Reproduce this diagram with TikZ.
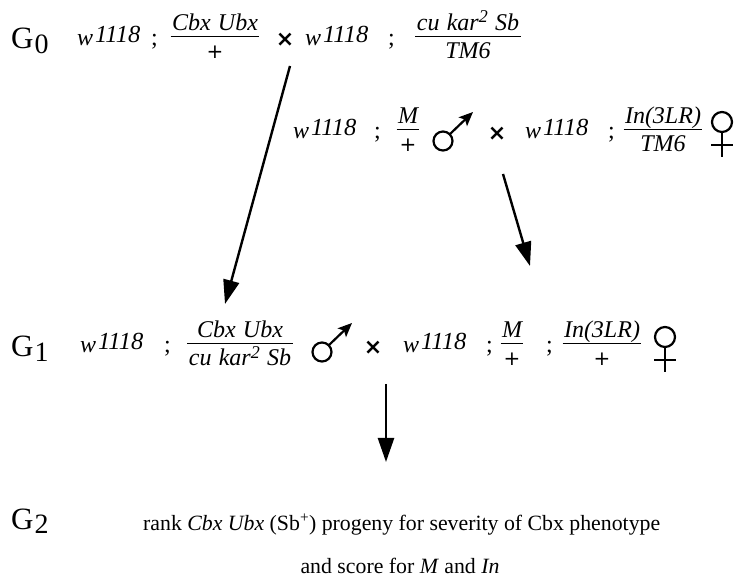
\documentclass[tikz,border=0pt]{standalone}
\usepackage{fontspec}
\setmainfont{Liberation Serif}
\newfontfamily\genfont[WordSpace=1.2]{Liberation Serif}
\newfontfamily\symfont{DejaVu Sans}
\usetikzlibrary{arrows.meta}
\newdimen\fax \fax=8pt
\newdimen\fnum \fnum=5.5pt
\newdimen\fden \fden=22pt
\newdimen\fbar \fbar=1pt
\newcommand{\gsz}{\genfont\fontsize{24}{28}\selectfont}
\newcommand{\wg}{\textit{w\kern2pt\raisebox{3pt}{\fontsize{24.5}{24}\selectfont 1118}}}
\newcommand{\sq}{\raisebox{0.32em}{\fontsize{18}{18}\selectfont 2}}
\newcommand{\pl}{{\symfont\fontsize{20}{20}\selectfont +}}
\newcommand{\gfr}[2]{%
  \setbox0=\hbox{\itshape #1}\setbox2=\hbox{\itshape #2}%
  \dimen0=\wd0 \ifdim\wd2>\dimen0 \dimen0=\wd2\fi
  \advance\dimen0 by 3pt
  \raise\fax\hbox{\vtop{\offinterlineskip\vbox{\offinterlineskip\hbox to\dimen0{\hss\copy0\hss}\kern\dimexpr\fnum-\dp0\relax\hrule height\fbar}\kern\dimexpr\fden-\ht2\relax\hbox to\dimen0{\hss\copy2\hss}}}}
\newcommand{\gen}[1]{G\kern1pt\raisebox{-5pt}{\fontsize{28}{28}\selectfont #1}}
\tikzset{
  txt/.style={inner sep=0pt, outer sep=0pt, font=\gsz, anchor=base west},
  ctr/.style={inner sep=0pt, outer sep=0pt, font=\gsz, anchor=base},
  glab/.style={inner sep=0pt, anchor=base west, font=\fontsize{31}{34}\selectfont},
  crs/.style={inner sep=0pt, anchor=center, font=\symfont\bfseries\fontsize{22}{22}\selectfont},
  sym/.style={line width=2.2pt},
  bigarr/.style={line width=2.4pt, -{Triangle[length=24pt,width=16pt]}},
  body/.style={inner sep=0pt, anchor=base west, font=\fontsize{21.8}{25}\selectfont},
  male/.pic={\draw[sym] (0,0) circle (9.5);
     \draw[sym, -{Stealth[length=14pt,width=12pt,inset=3pt]}] (6.7,-6.7) -- (30,-29);},
  female/.pic={\draw[sym] (0,0) circle (10);
     \draw[sym] (0,10) -- (0,35);
     \draw[sym] (-11,23) -- (11,23);}
}
\begin{document}
\begin{tikzpicture}[x=1pt,y=-1pt]
\useasboundingbox (0,0) rectangle (740,588);
% Row G0
\node[glab] (g0) at (11,49) {\gen{0}};
\node[txt] (g0w) at (77,46) {\wg};
\node[txt] (g0s) at (151,46) {;};
\node[ctr] (g0f) at (215,45) {\gfr{Cbx Ubx}{\pl}};
\node[crs] (g0x) at (285,40) {×};
\node[txt] (g0w2) at (305,46) {\wg};
\node[txt] (g0s2) at (388,46) {;};
\node[ctr] (g0f2) at (468,45) {\gfr{cu kar\sq\ Sb}{TM6}};
% Row 2 (side cross)
\node[txt] (r2w) at (293,139) {\wg};
\node[txt] (r2s) at (374,139) {;};
\node[ctr] (r2f) at (408,138) {\gfr{M}{\pl}};
\pic (r2m) at (443,141) {male};
\node[crs] (r2x) at (497,134) {×};
\node[txt] (r2w2) at (525,139) {\wg};
\node[txt] (r2s2) at (608,139) {;};
\node[ctr] (r2f2) at (663,138) {\gfr{In(3LR)}{TM6}};
\pic (r2fem) at (722,122) {female};
% Row G1
\node[glab] (g1) at (11,357) {\gen{1}};
\node[txt] (g1w) at (80,353) {\wg};
\node[txt] (g1s) at (164,353) {;};
\node[ctr] (g1f) at (240,352) {\gfr{Cbx Ubx}{cu kar\sq\ Sb}};
\pic (g1m) at (322,352) {male};
\node[crs] (g1x) at (373,348) {×};
\node[txt] (g1w2) at (403,353) {\wg};
\node[txt] (g1s2) at (486,353) {;};
\node[ctr] (g1f2) at (512,352) {\gfr{M}{\pl}};
\node[txt] (g1s3) at (546,353) {;};
\node[ctr] (g1f3) at (602,352) {\gfr{In(3LR)}{\pl}};
\pic (g1fem) at (665,337) {female};
% G2
\node[glab] (g2) at (11,529) {\gen{2}};
\node[body] (l1) at (143,530) {rank \textit{Cbx Ubx} (Sb\textsuperscript{+}) progeny for severity of Cbx phenotype};
\node[body, anchor=base] (l2) at (400,573) {and score for \textit{M} and \textit{In}};
% arrows
\coordinate (a1s) at (290,66);
\coordinate (a1e) at (225,304);
\coordinate (a2s) at (503,174);
\coordinate (a2e) at (530,266);
\coordinate (a3s) at (386,384);
\coordinate (a3e) at (386,462);
\draw[bigarr] (a1s) -- (a1e);
\draw[bigarr] (a2s) -- (a2e);
\draw[bigarr] (a3s) -- (a3e);
\end{tikzpicture}
\end{document}
